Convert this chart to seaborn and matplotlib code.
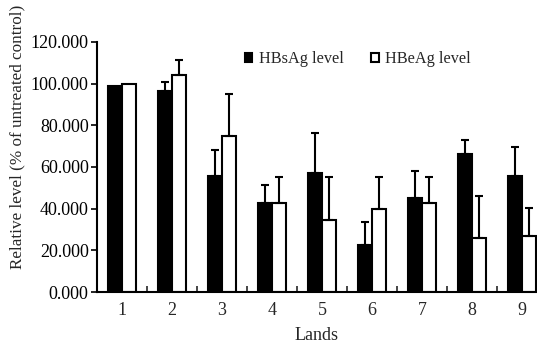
import matplotlib
matplotlib.use("Agg")
import matplotlib.pyplot as plt
import pandas as pd
import seaborn as sns
from matplotlib.ticker import FormatStrFormatter, FixedLocator

lands = ["1", "2", "3", "4", "5", "6", "7", "8", "9"]
hbsag = [99.0, 96.5, 55.5, 42.5, 57.0, 22.5, 45.0, 66.0, 55.5]
hbsag_err = [0.0, 4.5, 12.5, 9.0, 19.5, 11.0, 13.0, 7.0, 14.0]
hbeag = [100.0, 104.0, 75.0, 42.5, 34.5, 40.0, 42.5, 26.0, 27.0]
hbeag_err = [0.0, 7.5, 20.0, 12.5, 20.5, 15.0, 12.5, 20.0, 13.5]

sns.set_theme(style="ticks")
plt.rcParams['font.family'] = ['Liberation Serif', 'DejaVu Serif']

data = pd.DataFrame({
    "Lands": lands * 2,
    "Value": hbsag + hbeag,
    "Series": ["HBsAg level"] * 9 + ["HBeAg level"] * 9,
})

fig = plt.figure(figsize=(5.37, 3.49), dpi=100)
ax = fig.add_axes([0.1806, 0.1633, 0.8194, 0.7164])

sns.barplot(data=data, x="Lands", y="Value", hue="Series",
            palette=["black", "white"], width=0.56, gap=0,
            edgecolor="black", linewidth=1.5, ax=ax, legend=True)

# one-sided error bars on top of each bar
for cont, errs in zip(ax.containers, [hbsag_err, hbeag_err]):
    for bar, e in zip(cont, errs):
        if e <= 0:
            continue
        xc = bar.get_x() + bar.get_width() / 2
        h = bar.get_height()
        ax.errorbar([xc], [h], yerr=[[0], [e]], fmt="none", ecolor="black",
                    elinewidth=1.5, capsize=3, capthick=1.5)

ax.set_ylim(0, 120)
ax.set_xlim(-0.5, 8.3)
ax.yaxis.set_major_formatter(FormatStrFormatter("%.3f"))
ax.set_yticks([0, 20, 40, 60, 80, 100, 120])
ax.tick_params(axis="y", direction="out", length=4, width=1.2, labelsize=13,
               colors="black", pad=2)
ax.tick_params(axis="x", which="major", length=0, labelsize=13, pad=7)
ax.xaxis.set_minor_locator(FixedLocator([0.5 + i for i in range(8)]))
ax.tick_params(axis="x", which="minor", direction="in", length=4, width=1.2)
ax.set_xlabel("Lands", fontsize=13, labelpad=6)
ax.set_ylabel("Relative level (% of untreated control)", fontsize=12.3)
ax.yaxis.set_label_coords(-0.162, 0.62)
sns.despine(ax=ax)
for s in ["left", "bottom"]:
    ax.spines[s].set_linewidth(1.5)
    ax.spines[s].set_color("black")

ax.legend(loc="center", bbox_to_anchor=(0.593, 0.93), ncol=2, frameon=False,
          fontsize=11.7, handlelength=0.45, handleheight=0.45, handletextpad=0.4,
          columnspacing=1.7)

fig.savefig("out.png", dpi=100)
